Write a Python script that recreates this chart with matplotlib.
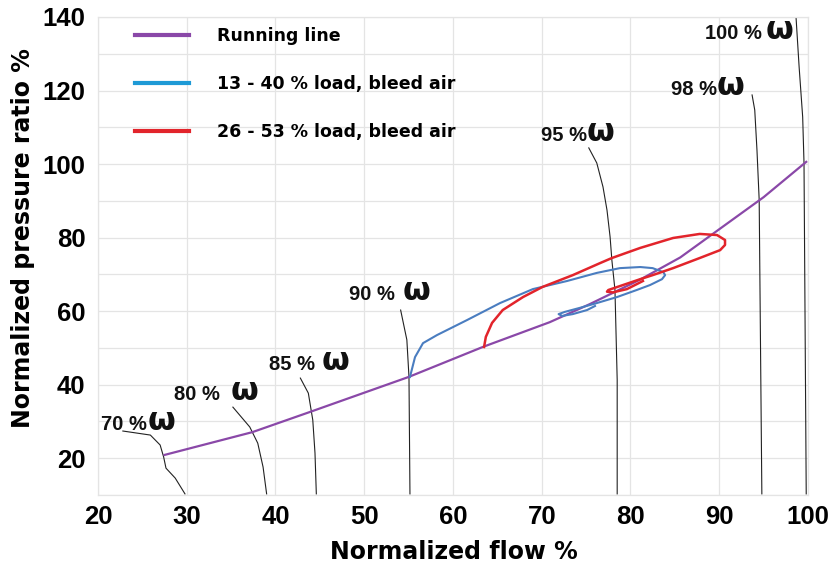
import matplotlib
matplotlib.use("Agg")
import matplotlib.pyplot as plt
from matplotlib.lines import Line2D
import numpy as np

# ---------------- data ----------------
running_x = [27.5, 37.4, 43.9, 55.0, 63.4, 70.9, 75.4, 81.1, 85.6, 90.3, 95.0, 99.8]
running_y = [20.9, 27.1, 32.6, 42.1, 50.3, 57.0, 61.9, 68.6, 74.6, 82.8, 91.0, 100.6]

blue_x = [55.15, 55.72, 56.62, 58.2, 61.6, 65.3, 69.0, 72.85, 76.2, 78.8, 81.1, 82.5, 83.7,
          83.9, 83.55, 82.2, 80.7, 78.5, 76.2, 74.3, 72.6, 71.9, 72.3, 73.5, 75.1, 76.0]
blue_y = [42.1, 47.5, 51.3, 53.5, 57.6, 62.2, 66.0, 68.2, 70.4, 71.7, 72.0, 71.7, 70.6,
          69.8, 68.7, 67.1, 65.75, 63.85, 62.2, 60.9, 59.8, 59.2, 58.7, 59.2, 60.3, 61.4]

red_x = [63.5, 63.7, 64.4, 65.6, 67.9, 70.1, 73.5, 76.6, 77.9, 81.1, 84.8, 87.8, 89.75,
         90.65, 90.65, 90.1, 87.8, 84.8, 82.5, 81.1, 79.15, 77.5, 77.35, 78.0, 79.6, 81.4]
red_y = [50.25, 53.0, 56.8, 60.3, 63.85, 66.6, 69.8, 73.1, 74.45, 77.2, 79.9, 81.0, 80.7,
         79.35, 78.0, 76.6, 74.45, 71.7, 69.8, 68.7, 67.1, 65.75, 65.3, 65.1, 66.0, 68.2]

speed_names = ["70 %", "80 %", "85 %", "90 %", "95 %", "98 %", "100 %"]
speed_x = [
    [22.8, 25.9, 27.0, 27.4, 27.66, 28.7, 29.8],
    [35.2, 37.1, 38.0, 38.6, 39.0],
    [42.8, 43.7, 44.2, 44.45, 44.6],
    [54.1, 54.8, 55.04, 55.15],
    [75.3, 76.2, 76.9, 77.35, 77.7, 77.9, 78.25, 78.5, 78.5],
    [93.7, 94.0, 94.25, 94.5, 94.8],
    [98.65, 99.0, 99.4, 99.55, 99.8],
]
speed_y = [
    [27.4, 26.3, 23.6, 20.3, 17.3, 14.6, 10.3],
    [33.9, 28.5, 24.1, 17.6, 10.3],
    [41.8, 37.7, 30.4, 21.4, 10.3],
    [60.3, 52.2, 42.1, 10.3],
    [104.4, 100.3, 93.8, 87.5, 80.2, 73.9, 65.75, 41.3, 10.3],
    [118.8, 114.7, 103.8, 90.2, 10.3],
    [140.0, 126.4, 112.8, 100.3, 10.3],
]

x_ticks = [20, 30, 40, 50, 60, 70, 80, 90, 100]
y_ticks = [20, 40, 60, 80, 100, 120, 140]

legend_labels = ["Running line", "13 - 40 % load, bleed air", "26 - 53 % load, bleed air"]

# ---------------- style ----------------
PURPLE = "#8A48A8"
BLUE = "#4A7DC0"
BLUE_LEG = "#1E9AD6"
RED = "#E2242B"
GRID = "#E4E4E4"

fig = plt.figure(figsize=(8.29, 5.67), dpi=100)
ax = fig.add_axes([98 / 829, 1 - 495 / 567, 710 / 829, 478 / 567])

ax.set_xlim(20, 100)
ax.set_ylim(10, 140)
ax.set_xticks(x_ticks)
ax.set_yticks(y_ticks)
ax.set_yticks(np.arange(10, 141, 10), minor=True)
ax.grid(True, which="both", color=GRID, linewidth=0.9)
ax.set_axisbelow(True)
for s in ax.spines.values():
    s.set_color(GRID)
    s.set_linewidth(0.9)
ax.tick_params(which="both", length=0)
ax.tick_params(axis="x", pad=7)
ax.tick_params(axis="y", pad=9)
for lab in ax.get_xticklabels() + ax.get_yticklabels():
    lab.set_fontfamily("Liberation Sans")
    lab.set_fontweight("bold")
    lab.set_fontsize(18.5)

ax.set_xlabel("Normalized flow %", fontfamily="DejaVu Sans", fontweight="bold", fontsize=17)
ax.set_ylabel("Normalized pressure ratio %", fontfamily="DejaVu Sans", fontweight="bold", fontsize=17)
ax.xaxis.label.set_va("center")
ax.yaxis.label.set_va("center")
ax.xaxis.set_label_coords(0.5007, -0.119)
ax.yaxis.set_label_coords(-0.106, 0.538)

# speed lines
for xs, ys in zip(speed_x, speed_y):
    ax.plot(xs, ys, color="#222222", linewidth=0.8, zorder=2)

# curves
ax.plot(running_x, running_y, color=PURPLE, linewidth=1.6, zorder=3)
ax.plot(blue_x, blue_y, color=BLUE, linewidth=1.5, zorder=4)
ax.plot(red_x, red_y, color=RED, linewidth=1.8, zorder=5)

# speed labels: (number right edge x, omega left x, baseline y)
label_pos = [
    (25.52, 25.55, 27.7),
    (33.75, 35.0, 35.84),
    (44.45, 45.25, 44.0),
    (53.46, 54.27, 63.04),
    (75.1, 75.1, 106.3),
    (89.75, 89.76, 118.8),
    (94.82, 95.28, 134.0),
]
for name, (xr, xo, yb) in zip(speed_names, label_pos):
    ax.text(xr, yb, name, ha="right", va="baseline", fontfamily="Liberation Sans",
            fontweight="bold", fontsize=14.5, color="#111111", zorder=6)
    ax.text(xo, yb, "ω", ha="left", va="baseline", fontfamily="DejaVu Sans",
            fontweight="bold", fontsize=23, color="#111111", zorder=6)

# legend
handles = [Line2D([], [], color=PURPLE, linewidth=3),
           Line2D([], [], color=BLUE_LEG, linewidth=3),
           Line2D([], [], color=RED, linewidth=3)]
leg = ax.legend(handles, legend_labels, loc="upper left", bbox_to_anchor=(0.052, 0.979),
                frameon=False, borderaxespad=0, borderpad=0, handlelength=3.1,
                handletextpad=1.6, labelspacing=1.72,
                prop={"family": "DejaVu Sans", "weight": "bold", "size": 12.5})

fig.savefig("out.png", dpi=100)
